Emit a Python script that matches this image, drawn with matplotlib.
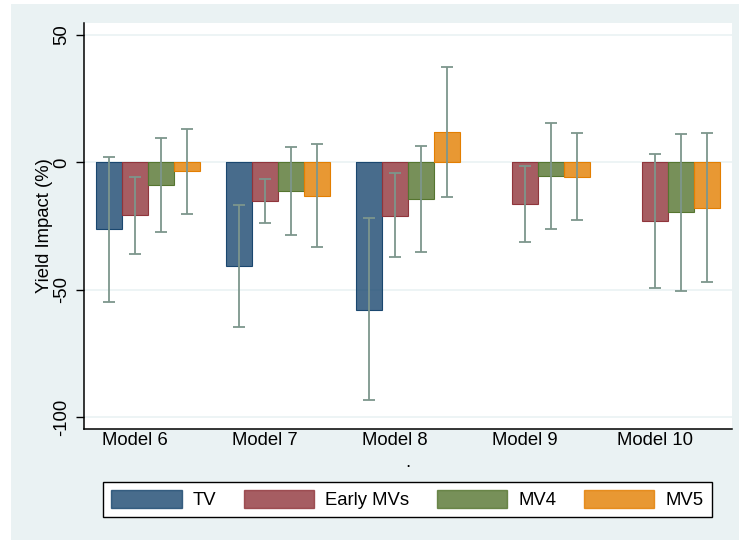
import numpy as np
import matplotlib.pyplot as plt
from matplotlib.patches import Rectangle

plt.rcParams['font.family'] = ['Liberation Sans', 'DejaVu Sans']
plt.rcParams['axes.unicode_minus'] = False

# Data
models = ['Model 6', 'Model 7', 'Model 8', 'Model 9', 'Model 10']
series = ['TV', 'Early MVs', 'MV4', 'MV5']

tv = [-26.2, -40.8, -57.9, np.nan, np.nan]
tv_lo = [-54.7, -64.8, -93.5, np.nan, np.nan]
tv_hi = [2.2, -16.9, -22.0, np.nan, np.nan]

early = [-20.7, -15.2, -20.9, -16.5, -23.0]
early_lo = [-35.9, -24.0, -37.2, -31.1, -49.2]
early_hi = [-5.6, -6.4, -4.3, -1.4, 3.4]

mv4 = [-8.9, -11.4, -14.5, -5.3, -19.6]
mv4_lo = [-27.3, -28.7, -35.3, -26.2, -50.7]
mv4_hi = [9.6, 6.2, 6.3, 15.6, 11.3]

mv5 = [-3.5, -13.2, 12.1, -5.9, -17.9]
mv5_lo = [-20.2, -33.1, -13.5, -22.8, -47.1]
mv5_hi = [13.2, 7.0, 37.6, 11.7, 11.4]

values = [tv, early, mv4, mv5]
lows = [tv_lo, early_lo, mv4_lo, mv5_lo]
highs = [tv_hi, early_hi, mv4_hi, mv5_hi]

# Stata s2color colours
colors = ['#1a476f', '#90353b', '#55752f', '#e37e00']
bg = '#eaf2f3'
ci_color = '#7d968c'

fig = plt.figure(figsize=(7.39, 5.40), dpi=100)
fig.patch.set_facecolor('white')
# light graph region
fig.patches.append(Rectangle((11 / 739, 0), 1, 1 - 4 / 540, transform=fig.transFigure,
                             facecolor=bg, edgecolor='none', zorder=-10))

ax = fig.add_axes([84 / 739, 1 - 429 / 540, (732 - 84) / 739, (429 - 23) / 540])
ax.set_zorder(1)
ax.set_facecolor('white')

x = np.arange(len(models))
w = 0.2
for i, name in enumerate(series):
    pos = x - 0.3 + i * w
    v = np.array(values[i], dtype=float)
    ax.bar(pos, v, width=w, facecolor=colors[i], alpha=0.8, edgecolor='none', zorder=2)
    ax.bar(pos, v, width=w, facecolor='none', edgecolor=colors[i], linewidth=0.8, zorder=2)
    lo = np.array(lows[i], dtype=float)
    hi = np.array(highs[i], dtype=float)
    ax.errorbar(pos, v, yerr=[v - lo, hi - v], fmt='none', ecolor=ci_color,
                elinewidth=1.3, capsize=4.5, capthick=1.3, zorder=3)

# gridlines
ax.set_yticks([-100, -50, 0, 50])
ax.yaxis.grid(True, color=bg, linewidth=1.2, zorder=1)
ax.set_axisbelow(True)

ax.set_xlim(-0.49, 4.49)
ax.set_ylim(-104.7, 54.7)
ax.set_xticks(x - 0.1)
ax.set_xticklabels(models, fontsize=13.3)
ax.tick_params(axis='x', length=0, pad=2)
ax.tick_params(axis='y', length=6, width=1, pad=4, labelsize=13.3)
for lab in ax.get_yticklabels():
    lab.set_rotation(90)
    lab.set_va('center')

ax.set_ylabel('Yield Impact (%)', fontsize=13.3, labelpad=0)
ax.set_xlabel('.', fontsize=13.3, labelpad=4)

for s in ['top', 'right']:
    ax.spines[s].set_visible(False)
for s in ['left', 'bottom']:
    ax.spines[s].set_linewidth(1.1)

# legend
handles = [Rectangle((0, 0), 1, 1, facecolor=colors[i], alpha=0.8, edgecolor=colors[i])
           for i in range(4)]
leg = fig.legend(handles, series, loc='center', bbox_to_anchor=(407.5 / 739, 1 - 499.5 / 540),
                 ncol=4, fontsize=13.3, frameon=True, fancybox=False, edgecolor='black',
                 framealpha=1, facecolor='white',
                 handlelength=3.8, handleheight=1.1, handletextpad=0.6, columnspacing=1.5,
                 borderpad=0.45, borderaxespad=0)
leg.get_frame().set_linewidth(1.0)
leg.set_zorder(2)

fig.savefig('out.png', dpi=100, facecolor=fig.get_facecolor())
